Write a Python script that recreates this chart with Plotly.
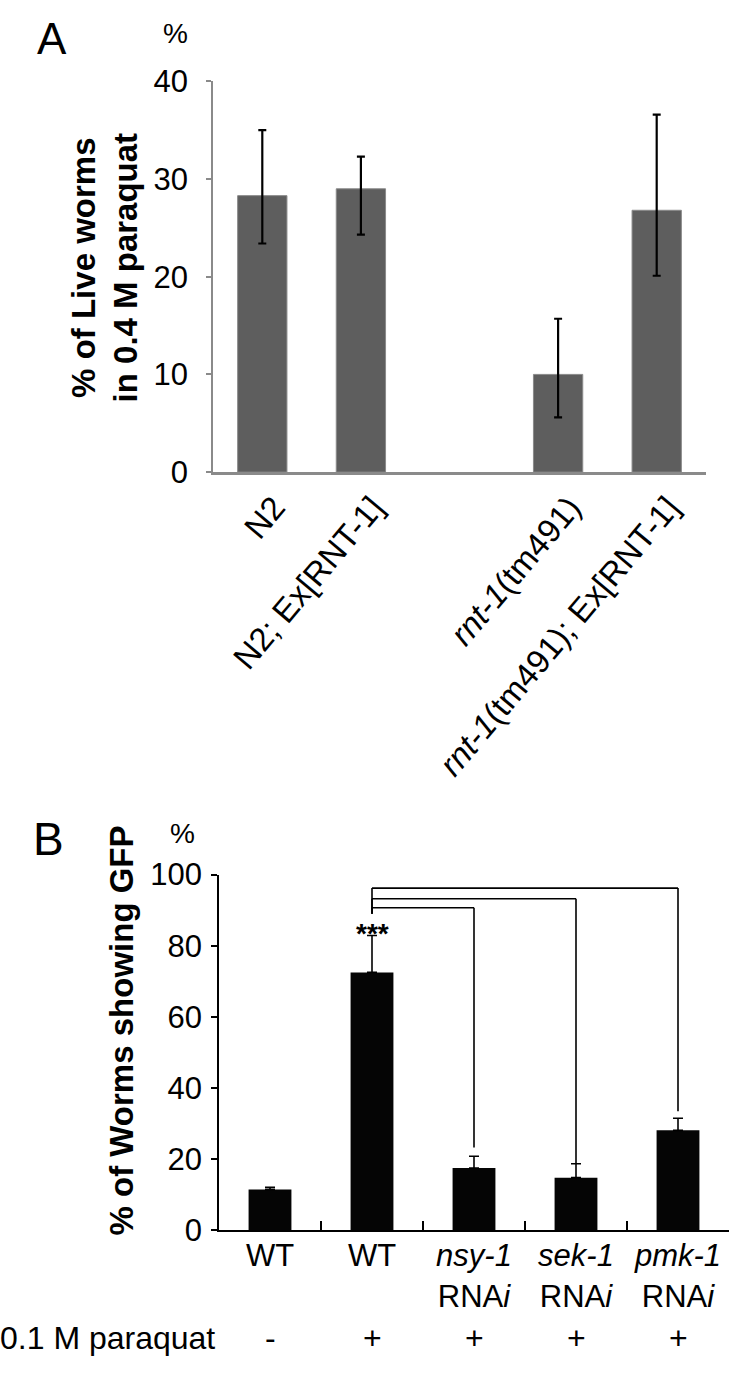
import plotly.graph_objects as go

# ---- panel A: survival in 0.4 M paraquat ----
a_labels = ["N2", "N2; Ex[RNT-1]", "<i>rnt-1</i>(tm491)", "<i>rnt-1</i>(tm491); Ex[RNT-1]"]
a_pos = [0, 1, 3, 4]          # slot 2 left empty as in the figure
a_values = [28.3, 29.0, 10.0, 26.8]
a_err_up = [6.7, 3.3, 5.7, 9.8]
a_err_down = [4.9, 4.7, 4.4, 6.7]

# ---- panel B: GFP reporter ----
b_keys = ["wt", "wt_pq", "nsy1", "sek1", "pmk1"]
b_labels = ["WT", "WT", "<i>nsy-1</i><br>RNA<i>i</i>", "<i>sek-1</i><br>RNA<i>i</i>",
            "<i>pmk-1</i><br>RNA<i>i</i>"]
b_values = [11.5, 72.5, 17.5, 14.8, 28.1]
b_err_up = [0.6, 10.4, 3.3, 3.9, 3.4]
b_paraquat = ["-", "+", "+", "+", "+"]

# significance brackets from WT+paraquat (index 1) to each RNAi bar
br_from = 1
br_to = [2, 3, 4]
br_height = [90.7, 93.2, 96.2]
br_left_end = 89.0
br_right_end = [23.3, 18.7, 33.5]

FONT = "Liberation Sans, Arial, sans-serif"
W, H = 732, 1375


def px(x, y):
    # pixel position from top-left -> paper coords
    return x / W, 1 - y / H


fig = go.Figure()

fig.add_trace(go.Bar(
    x=a_pos, y=a_values, width=0.5,
    marker=dict(color="#5e5e5e", line=dict(color="#8a8a8a", width=1)),
    error_y=dict(type="data", symmetric=False, array=a_err_up, arrayminus=a_err_down,
                 color="black", thickness=2.2, width=4),
    xaxis="x", yaxis="y",
))

fig.add_trace(go.Bar(
    x=b_keys, y=b_values, width=0.42,
    marker=dict(color="#050505", line=dict(width=0)),
    error_y=dict(type="data", symmetric=False, array=b_err_up, arrayminus=[0] * 5,
                 color="black", thickness=1.6, width=5),
    xaxis="x2", yaxis="y2",
))

shapes = []
for to, h, end in zip(br_to, br_height, br_right_end):
    for x0, y0, x1, y1 in [(br_from, br_left_end, br_from, h), (br_from, h, to, h), (to, h, to, end)]:
        shapes.append(dict(type="line", xref="x2", yref="y2", x0=x0, y0=y0, x1=x1, y1=y1,
                           line=dict(color="black", width=1.6)))


def note(text, x, y, size, angle=0, xanchor="center"):
    px_x, px_y = px(x, y)
    return dict(text=text, x=px_x, y=px_y, xref="paper", yref="paper", showarrow=False,
                xanchor=xanchor, yanchor="middle", textangle=angle,
                font=dict(size=size, color="black"))


annotations = [
    note("A", 52, 22, 44),
    note("%", 175, 17, 28),
    note("<b>% of Live worms<br>in 0.4 M paraquat</b>", 105, 257, 33, angle=-90),
    note("B", 48, 843, 46),
    note("%", 182, 838, 28),
    note("<b>% of Worms showing GFP</b>", 122, 1040, 33, angle=-90),
    note("0.1 M paraquat", -2, 1355, 32, xanchor="left"),
    dict(text="<b>***</b>", x=br_from, y=83.5, xref="x2", yref="y2", showarrow=False,
         xanchor="center", yanchor="middle", font=dict(size=28, color="black")),
]
for i, s in enumerate(b_paraquat):
    annotations.append(dict(text=s, x=i, y=px(0, 1355)[1], xref="x2", yref="paper",
                            showarrow=False, xanchor="center", yanchor="middle",
                            font=dict(size=32, color="black")))

fig.update_layout(
    width=W, height=H,
    margin=dict(l=0, r=0, t=0, b=0),
    paper_bgcolor="white", plot_bgcolor="white",
    showlegend=False,
    font=dict(family=FONT, color="black"),
    shapes=shapes,
    annotations=annotations,
    xaxis=dict(domain=[213 / W, 706 / W], range=[-0.5, 4.5], anchor="y",
               # labels sit a little right of the bar centre, as in the original
               tickvals=[p + 0.12 for p in a_pos], ticktext=a_labels, tickangle=-50,
               showline=True, linecolor="#8a8a8a", linewidth=2.5, ticks="",
               showgrid=False, zeroline=False, tickfont=dict(size=33)),
    yaxis=dict(domain=[1 - 467 / H, 1 - 66 / H], range=[0, 40], anchor="x",
               tickvals=[0, 10, 20, 30, 40],
               showline=True, linecolor="#8a8a8a", linewidth=1.5,
               ticks="outside", ticklen=5, tickwidth=2, tickcolor="#8a8a8a",
               ticklabelstandoff=12,
               showgrid=False, zeroline=False, tickfont=dict(size=31)),
    xaxis2=dict(domain=[219 / W, 729 / W], range=[-0.5, 4.5], anchor="y2",
                type="category", tickvals=b_keys, ticktext=b_labels, tickangle=0,
                tickson="boundaries", ticks="inside", ticklen=10, tickwidth=1.5,
                tickcolor="black", ticklabelstandoff=-3,
                showline=True, linecolor="black", linewidth=1.5,
                showgrid=False, zeroline=False, tickfont=dict(size=31)),
    yaxis2=dict(domain=[1 - 1245 / H, 1 - 880 / H], range=[0, 100], anchor="x2",
                tickvals=[0, 20, 40, 60, 80, 100],
                showline=True, linecolor="black", linewidth=1.5,
                ticks="outside", ticklen=6, tickwidth=1.5, tickcolor="black",
                ticklabelstandoff=3,
                showgrid=False, zeroline=False, tickfont=dict(size=31)),
)

fig.write_html("out.html", config={"displayModeBar": False},
               post_script="document.body.style.margin='0';")
